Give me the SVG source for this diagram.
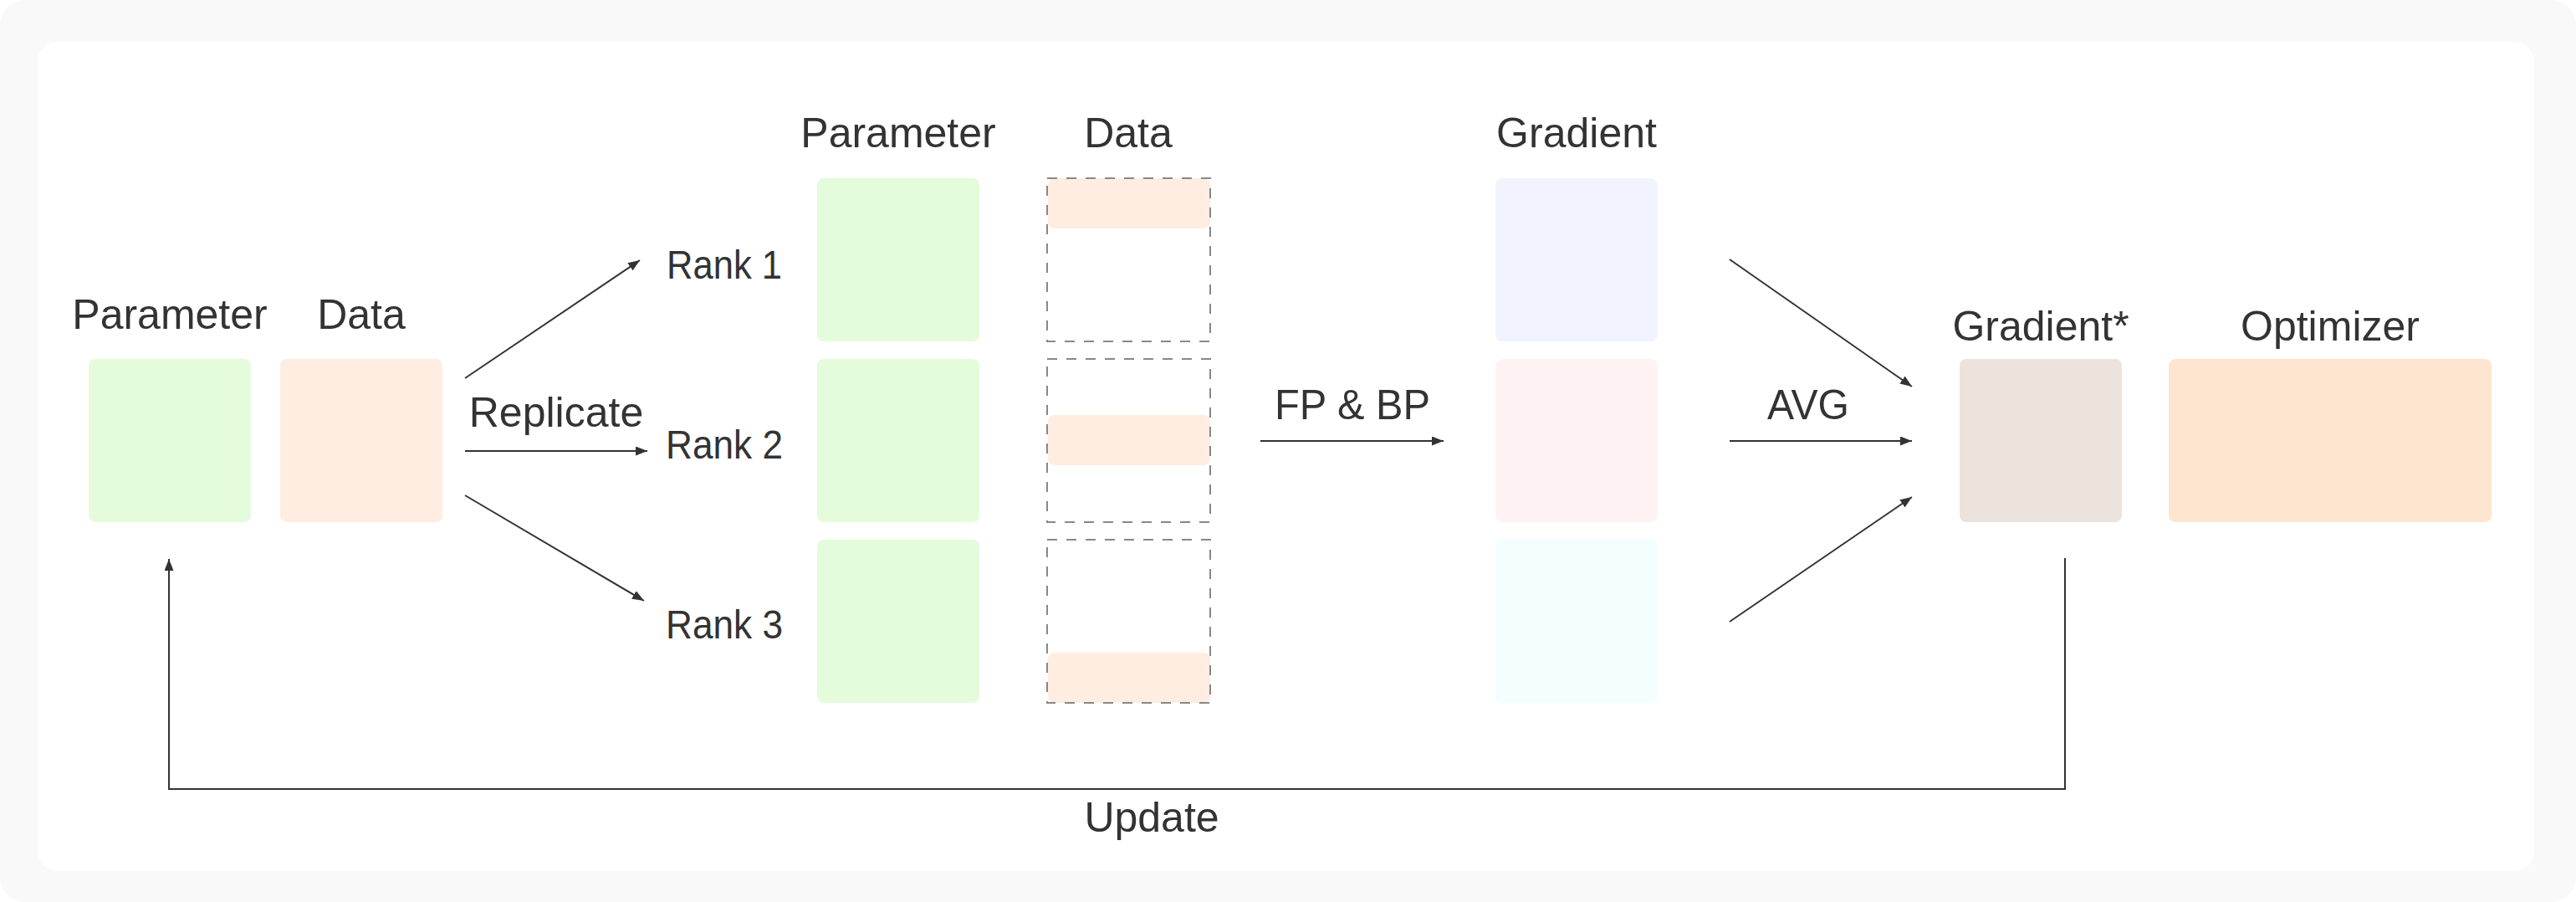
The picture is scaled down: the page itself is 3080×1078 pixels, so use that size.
<svg xmlns="http://www.w3.org/2000/svg" width="3080" height="1078" viewBox="0 0 3080 1078">
<defs>
<style>
.t{font-family:"Liberation Sans",Arial,sans-serif;font-size:50px;fill:#333333;text-anchor:middle}
.rk{font-size:48px}
.ln{stroke:#333333;stroke-width:2;fill:none}
.arr{marker-end:url(#ah)}
.green{fill:#e4fcdc}
.dat{fill:#feede0}
.dash{fill:none;stroke:#888888;stroke-width:2;stroke-dasharray:12 11}
</style>
<marker id="ah" viewBox="0 0 14 11" refX="14" refY="5.5" markerWidth="14" markerHeight="11" markerUnits="userSpaceOnUse" orient="auto">
<path d="M0,0 L14,5.5 L0,11 z" fill="#333333"/>
</marker>
</defs>
<rect x="0" y="0" width="3080" height="1078" fill="#ffffff"/>
<rect x="0" y="0" width="3080" height="1078" rx="30" fill="#f9f9f9"/>
<rect x="45" y="50" width="2985" height="991" rx="24" fill="#ffffff"/>

<g id="src-parameter">
<text class="t" x="203" y="393">Parameter</text>
<rect class="green" x="106" y="429" width="194" height="195" rx="8"/>
</g>
<g id="src-data">
<text class="t" x="432" y="393">Data</text>
<rect class="dat" x="335" y="429" width="194" height="195" rx="8"/>
</g>

<g id="rank1">
<text class="t rk" x="866" y="333" textLength="138" lengthAdjust="spacingAndGlyphs">Rank 1</text>
<rect class="green" x="977" y="213" width="194" height="195" rx="8"/>
<rect class="dat" x="1253" y="213" width="194" height="60" rx="8"/>
<rect class="dash" x="1252" y="213" width="195" height="195"/>
</g>
<g id="rank2">
<text class="t rk" x="866" y="548" textLength="140" lengthAdjust="spacingAndGlyphs">Rank 2</text>
<rect class="green" x="977" y="429" width="194" height="195" rx="8"/>
<rect class="dat" x="1253" y="496" width="194" height="60" rx="8"/>
<rect class="dash" x="1252" y="429" width="195" height="195"/>
</g>
<g id="rank3">
<text class="t rk" x="866" y="763" textLength="140" lengthAdjust="spacingAndGlyphs">Rank 3</text>
<rect class="green" x="977" y="645" width="194" height="195" rx="8"/>
<rect class="dat" x="1253" y="780" width="194" height="60" rx="8"/>
<rect class="dash" x="1252" y="645" width="195" height="195"/>
</g>
<g id="col-headers">
<text class="t" x="1074" y="176">Parameter</text>
<text class="t" x="1349" y="176">Data</text>
</g>

<g id="gradients">
<text class="t" x="1885" y="176">Gradient</text>
<rect x="1788" y="213" width="194" height="195" rx="8" fill="#f1f4ff"/>
<rect x="1788" y="429" width="194" height="195" rx="8" fill="#fff2f2"/>
<rect x="1788" y="645" width="194" height="195" rx="8" fill="#f2feff"/>
</g>

<g id="gradient-avg">
<text class="t" x="2440" y="407">Gradient*</text>
<rect x="2343" y="429" width="194" height="195" rx="8" fill="#ebe3dc"/>
</g>
<g id="optimizer">
<text class="t" x="2786" y="407">Optimizer</text>
<rect x="2593" y="429" width="386" height="195" rx="8" fill="#fee5cf"/>
</g>

<g id="connectors">
<line class="ln arr" x1="556" y1="452" x2="765" y2="311"/>
<line class="ln arr" x1="556" y1="539" x2="774" y2="539"/>
<line class="ln arr" x1="556" y1="592" x2="770" y2="718"/>
<text class="t" x="665" y="510">Replicate</text>
<line class="ln arr" x1="1507" y1="527" x2="1726" y2="527"/>
<text class="t" x="1617" y="501" textLength="186" lengthAdjust="spacingAndGlyphs">FP &amp; BP</text>
<line class="ln arr" x1="2068" y1="310" x2="2286" y2="462"/>
<line class="ln arr" x1="2068" y1="527" x2="2286" y2="527"/>
<line class="ln arr" x1="2068" y1="743" x2="2286" y2="594"/>
<text class="t" x="2162" y="501" textLength="98" lengthAdjust="spacingAndGlyphs">AVG</text>
<polyline class="ln arr" points="2469,667 2469,943 202,943 202,668"/>
<text class="t" x="1377" y="994">Update</text>
</g>
</svg>
